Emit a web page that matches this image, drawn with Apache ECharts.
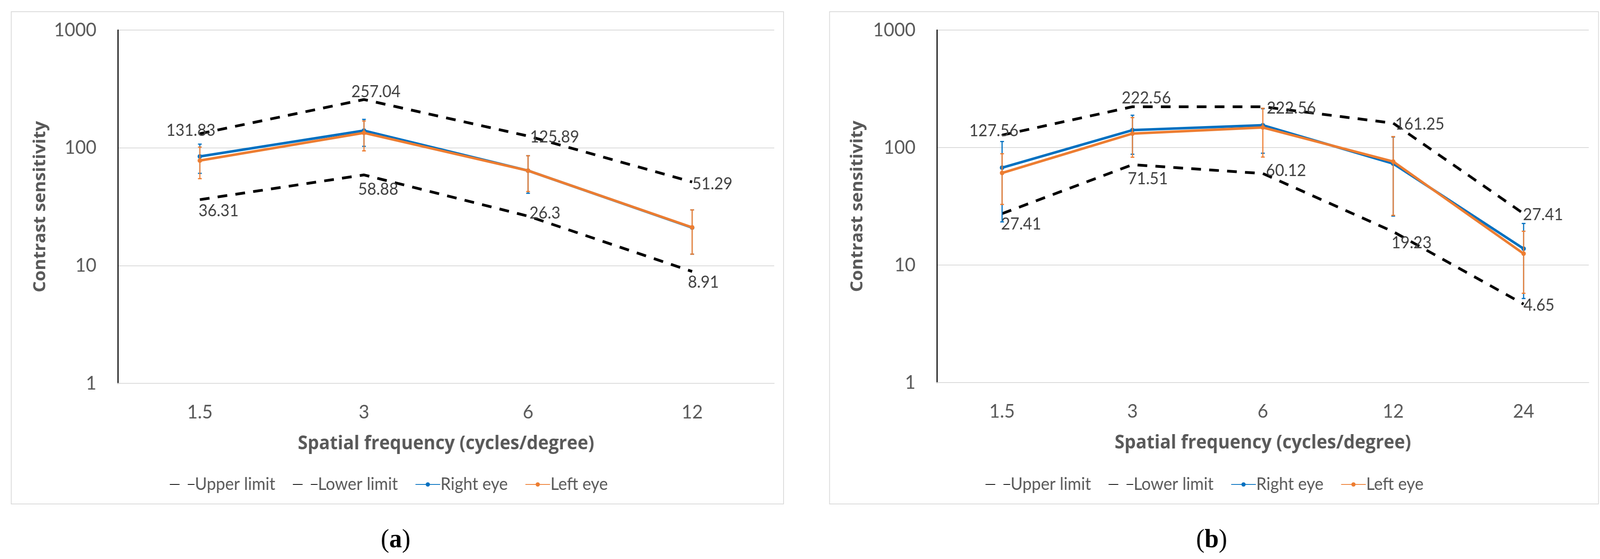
<!DOCTYPE html>
<html><head><meta charset="utf-8">
<script src="https://cdn.jsdelivr.net/npm/echarts@6/dist/echarts.min.js"></script>
<style>html,body{margin:0;padding:0;background:#fff;overflow:hidden}#c{width:4278px;height:1432px;transform-origin:0 0}</style>
</head><body><div id="c"></div>
<script>
// ---------- data ----------
const categoriesA = ['1.5', '3', '6', '12'];
const upperA = [131.83, 257.04, 125.89, 51.29];
const lowerA = [36.31, 58.88, 26.3, 8.91];
const rightA = [84.5, 140, 64, 21];
const leftA = [78, 134, 64, 21.1];
const rightErrLowA = [60.7, 102.9, 41.1, 12.5];
const rightErrHighA = [107.5, 174.4, 85.7, 29.7];
const leftErrLowA = [54.7, 94.2, 42.5, 12.5];
const leftErrHighA = [101.4, 169, 85.7, 29.7];

const categoriesB = ['1.5', '3', '6', '12', '24'];
const upperB = [127.56, 222.56, 222.56, 161.25, 27.41];
const lowerB = [27.41, 71.51, 60.12, 19.23, 4.65];
const rightB = [67.4, 140.7, 154.9, 73, 13.8];
const leftB = [60.8, 131.5, 148.2, 76, 12.5];
const rightErrLowB = [23.3, 87.7, 89.5, 26.1, 5.19];
const rightErrHighB = [112.6, 188.4, 214, 123, 22.6];
const leftErrLowB = [32.8, 82.7, 83, 26.5, 5.75];
const leftErrHighB = [88.6, 180, 216, 124, 19.4];

const yTicks = [1, 10, 100, 1000];
const seriesNames = ['Upper limit', 'Lower limit', 'Right eye', 'Left eye'];
const yTitle = 'Contrast sensitivity';
const xTitle = 'Spatial frequency (cycles/degree)';

// ---------- styling (label offsets relative to point) ----------
const offUpperA = [[-24, -8], [32, -20], [71, 3], [54, 5]];
const offLowerA = [[50, 29], [38, 37], [45, -7], [30, 28]];
const offUpperB = [[-22, -11], [37, -22], [76, 4], [71, 3], [52, 3]];
const offLowerB = [[51, 27], [41, 37], [62, -7], [49, 29], [41, 3]];

const FONT = 'Lato, "Open Sans", sans-serif';
const TITLE_FONT = '"Open Sans", Lato, sans-serif';
const GREY = '#595959';
const BLUE = '#0070C0';
const ORANGE = '#ED7D31';

// fit the 4278x1432 design into the actual viewport
const W = 4278, H = 1432;
const el = document.getElementById('c');
const sx = (window.innerWidth || W) / W, sy = (window.innerHeight || H) / H;
if (Math.abs(sx - 1) > 0.001 || Math.abs(sy - 1) > 0.001) {
  el.style.transform = 'scale(' + sx + ',' + sy + ')';
}

function limitSeries(name, values, offsets, gi) {
  return {
    name: name, type: 'line', xAxisIndex: gi, yAxisIndex: gi,
    data: values.map((v, i) => ({ value: v, label: { offset: offsets[i] } })),
    symbol: 'circle', symbolSize: 1, showSymbol: true,
    itemStyle: { color: 'rgba(0,0,0,0)' },
    lineStyle: { color: '#000', width: 7, type: [26, 22] },
    label: { show: true, position: 'inside', color: '#404040', fontSize: 42, fontFamily: FONT,
      formatter: p => String(p.value) },
    emphasis: { disabled: true }, silent: true, z: 2
  };
}
function eyeSeries(name, values, color, gi, z) {
  return {
    name: name, type: 'line', xAxisIndex: gi, yAxisIndex: gi, data: values,
    symbol: 'circle', symbolSize: 12, showSymbol: true,
    itemStyle: { color: color }, lineStyle: { color: color, width: 6.5 },
    emphasis: { disabled: true }, silent: true, z: z
  };
}
function errSeries(lows, highs, color, gi, z) {
  return {
    type: 'custom', xAxisIndex: gi, yAxisIndex: gi, silent: true, z: z,
    data: lows.map((l, i) => [i, l, highs[i]]),
    encode: { x: 0, y: [1, 2] },
    renderItem: function (params, api) {
      const lo = api.coord([api.value(0), api.value(1)]);
      const hi = api.coord([api.value(0), api.value(2)]);
      const cw = 5;
      const st = { stroke: color, lineWidth: 3 };
      return { type: 'group', children: [
        { type: 'line', shape: { x1: lo[0], y1: lo[1], x2: hi[0], y2: hi[1] }, style: st },
        { type: 'line', shape: { x1: hi[0] - cw, y1: hi[1], x2: hi[0] + cw, y2: hi[1] }, style: st },
        { type: 'line', shape: { x1: lo[0] - cw, y1: lo[1], x2: lo[0] + cw, y2: lo[1] }, style: st }
      ] };
    }
  };
}
function xAxisDef(cats, gi) {
  return {
    type: 'category', gridIndex: gi, data: cats, boundaryGap: true,
    axisLine: { show: true, lineStyle: { color: '#D9D9D9', width: 2 } },
    axisTick: { show: false },
    axisLabel: { color: GREY, fontSize: 49, fontFamily: FONT, margin: 50 },
    name: xTitle, nameLocation: 'middle', nameGap: 131,
    nameTextStyle: { color: GREY, fontSize: 48, fontWeight: 'bold', fontFamily: TITLE_FONT }
  };
}
function yAxisDef(gi, gap) {
  return {
    type: 'log', logBase: 10, gridIndex: gi, min: yTicks[0], max: yTicks[yTicks.length - 1],
    axisLine: { show: true, lineStyle: { color: '#000', width: 3 } },
    axisTick: { show: false },
    splitLine: { show: true, lineStyle: { color: '#D9D9D9', width: 2 } },
    axisLabel: { color: GREY, fontSize: 49, fontFamily: FONT, margin: 57, formatter: v => String(Math.round(v)) },
    name: yTitle, nameLocation: 'middle', nameGap: gap, nameRotate: 90,
    nameTextStyle: { color: GREY, fontSize: 45, fontWeight: 'bold', fontFamily: TITLE_FONT }
  };
}
function legendDef(left) {
  return {
    data: seriesNames, left: left, top: 1214, orient: 'horizontal',
    itemWidth: 66, itemHeight: 14, itemGap: 46,
    textStyle: { color: GREY, fontSize: 44, fontFamily: FONT, padding: [0, 0, 0, -4] },
    selectedMode: false
  };
}
function caption(letter, cx) {
  return {
    type: 'text', left: cx - 45, top: 1350,
    style: { text: '{n|(}{b|' + letter + '}{n|)}',
      rich: { n: { fontFamily: '"Liberation Serif", serif', fontSize: 68, fill: '#000' },
              b: { fontFamily: '"Liberation Serif", serif', fontSize: 68, fontWeight: 'bold', fill: '#000' } } }
  };
}

const chart = echarts.init(el, null, { renderer: 'canvas', width: W, height: H });
chart.setOption({
  animation: false,
  backgroundColor: '#fff',
  grid: [
    { left: 315, top: 77, width: 1755, height: 905 },
    { left: 2505, top: 77, width: 1743, height: 903 }
  ],
  xAxis: [xAxisDef(categoriesA, 0), xAxisDef(categoriesB, 1)],
  yAxis: [yAxisDef(0, 184), yAxisDef(1, 189)],
  legend: [legendDef(448), legendDef(2629)],
  graphic: [
    { type: 'rect', shape: { x: 30, y: 30, width: 2065, height: 1261 }, style: { fill: 'none', stroke: '#D9D9D9', lineWidth: 2 }, z: -1 },
    { type: 'rect', shape: { x: 2218, y: 30, width: 2056, height: 1261 }, style: { fill: 'none', stroke: '#D9D9D9', lineWidth: 2 }, z: -1 },
    caption('a', 1063),
    caption('b', 3243)
  ],
  series: [
    limitSeries(seriesNames[0], upperA, offUpperA, 0),
    limitSeries(seriesNames[1], lowerA, offLowerA, 0),
    errSeries(rightErrLowA, rightErrHighA, BLUE, 0, 3),
    eyeSeries(seriesNames[2], rightA, BLUE, 0, 4),
    errSeries(leftErrLowA, leftErrHighA, ORANGE, 0, 5),
    eyeSeries(seriesNames[3], leftA, ORANGE, 0, 6),
    limitSeries(seriesNames[0], upperB, offUpperB, 1),
    limitSeries(seriesNames[1], lowerB, offLowerB, 1),
    errSeries(rightErrLowB, rightErrHighB, BLUE, 1, 3),
    eyeSeries(seriesNames[2], rightB, BLUE, 1, 4),
    errSeries(leftErrLowB, leftErrHighB, ORANGE, 1, 5),
    eyeSeries(seriesNames[3], leftB, ORANGE, 1, 6)
  ]
});
</script></body></html>
